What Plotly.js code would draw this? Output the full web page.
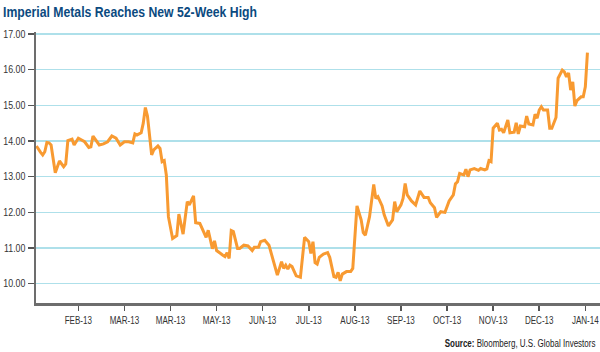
<!DOCTYPE html>
<html>
<head>
<meta charset="utf-8">
<script src="https://cdn.plot.ly/plotly-3.0.1.min.js"></script>
<style>html,body{margin:0;padding:0;background:#fff;}#chart{width:600px;height:352px;}</style>
</head>
<body>
<div id="chart"></div>
<script>
// trading-day index (Jan 2013 .. Jan 2014)
const dayIndex = [0,1,2,3,4,5,6,7,9,11,13,14,15,17,18,20,23,25,26,27,29,30,32,33,34,36,38,40,42,44,46,47,48,50,51,52,53,55,56,58,59,60,61,62,63,65,67,68,70,72,73,75,76,78,79,81,82,84,85,86,89,90,91,92,93,94,96,97,99,101,103,104,106,107,109,111,115,117,118,119,120,121,122,124,126,128,130,131,132,133,134,135,137,139,140,142,143,144,145,146,148,150,151,153,155,156,157,159,161,162,163,165,166,168,170,171,172,174,175,176,177,179,181,183,185,187,188,190,191,193,195,197,199,200,201,202,204,205,206,207,209,211,212,214,215,216,217,218,220,221,222,223,225,226,228,229,230,231,233,234,235,237,238,239,240,241,242,244,245,246,248,249,251,252,253,254,255,256,257,258,260,261,262,263];
// share price (CAD)
const price = [13.86,13.75,13.68,13.61,13.70,13.96,13.95,13.89,13.11,13.44,13.28,13.36,14.01,14.05,13.89,14.08,13.98,13.82,13.84,14.14,13.98,13.89,13.92,13.94,13.98,14.14,14.08,13.89,13.98,13.98,13.95,14.20,14.17,14.23,14.50,14.94,14.70,13.61,13.75,13.86,13.79,13.42,13.45,13.05,11.88,11.27,11.35,11.95,11.39,12.30,12.21,12.46,11.71,11.69,11.55,11.30,11.50,10.98,11.20,10.93,10.80,10.76,10.87,10.71,11.49,11.46,10.99,10.99,11.08,11.06,10.93,11.02,11.02,11.18,11.22,11.08,10.24,10.62,10.43,10.52,10.41,10.52,10.48,10.22,10.18,11.30,11.18,10.85,11.18,10.59,10.55,10.74,10.83,10.87,10.74,10.20,10.18,10.32,10.08,10.27,10.34,10.34,10.43,12.18,11.79,11.43,11.36,11.88,12.78,12.39,12.44,12.18,11.93,11.62,11.79,12.30,12.02,12.21,12.39,12.81,12.49,12.32,12.21,12.60,12.42,12.42,12.27,12.13,11.86,12.02,12.00,12.32,12.49,12.80,12.86,13.09,13.05,13.21,13.00,13.19,13.23,13.18,13.23,13.19,13.22,13.45,13.42,14.36,14.50,14.31,14.33,14.23,14.59,14.23,14.25,14.51,14.20,14.42,14.40,14.70,14.48,14.45,14.75,14.64,14.87,14.96,14.87,14.87,14.36,14.36,14.66,15.76,15.99,15.94,15.80,15.91,15.43,15.66,14.98,15.13,15.24,15.24,15.52,16.48];
const tickPositions = [20,42,64,86,108,130,152,174,196,218,240,262];
const tickLabels = ["FEB-13","MAR-13","MAR-13","MAY-13","JUN-13","JUL-13","AUG-13","SEP-13","OCT-13","NOV-13","DEC-13","JAN-14"];
const yTicks = [10,11,12,13,14,15,16,17];
const yTickLabels = ["10.00","11.00","12.00","13.00","14.00","15.00","16.00","17.00"];

const fam = '"Liberation Sans", Arial, sans-serif';

const trace = {
  x: dayIndex, y: price, type: 'scatter', mode: 'lines',
  line: {color: '#F89A31', width: 3, shape: 'linear'},
  hoverinfo: 'skip'
};

const layout = {
  width: 600, height: 352,
  margin: {l: 36, r: 0, t: 32, b: 49, pad: 0},
  paper_bgcolor: '#fff', plot_bgcolor: '#fff',
  showlegend: false,
  title: {
    text: 'Imperial Metals Reaches New 52-Week High',
    font: {family: fam, size: 14.5, color: '#0B4A80', weight: 'bold'},
    x: 0.005, xanchor: 'left', xref: 'container',
    y: 1 - 12/352, yanchor: 'middle', yref: 'container'
  },
  xaxis: {
    range: [-0.2, 269],
    tickmode: 'array', tickvals: tickPositions, ticktext: tickLabels,
    showgrid: false, zeroline: false,
    showline: true, linecolor: '#6d6d6d', linewidth: 2.5,
    ticks: 'outside', ticklen: 5, tickwidth: 1.5, tickcolor: '#555',
    tickfont: {family: fam, size: 11.5, color: '#333'},
    ticklabeloverflow: 'allow',
    fixedrange: true
  },
  yaxis: {
    range: [9.46, 17.056],
    tickmode: 'array', tickvals: yTicks, ticktext: yTickLabels,
    showgrid: true, gridcolor: '#AEE0EA', gridwidth: 1.2,
    zeroline: false,
    showline: true, linecolor: '#6d6d6d', linewidth: 2.5,
    ticks: 'outside', ticklen: 6, tickwidth: 1.5, tickcolor: '#555',
    tickfont: {family: fam, size: 10.5, color: '#333'},
    ticklabeloverflow: 'allow',
    fixedrange: true
  },
  annotations: [{
    text: '<b>Source:</b> Bloomberg, U.S. Global Investors',
    xref: 'paper', yref: 'paper', x: 1, y: -0.151,
    xanchor: 'right', yanchor: 'middle', xshift: -3,
    showarrow: false,
    font: {family: fam, size: 10, color: '#222'}
  }]
};

// Horizontally condense text (reference uses a narrow typeface)
function squeeze(selector, factor, targetWidth, keepRight) {
  document.querySelectorAll(selector).forEach(function (t) {
    const len = t.getComputedTextLength();
    if (!len) return;
    const w = targetWidth ? targetWidth : len * factor;
    t.setAttribute('textLength', w);
    t.setAttribute('lengthAdjust', 'spacingAndGlyphs');
    if (keepRight) {
      const x = parseFloat(t.getAttribute('x') || '0');
      t.setAttribute('x', x + (len - w) / 2);
    }
  });
}

Plotly.newPlot('chart', [trace], layout, {displayModeBar: false, staticPlot: true}).then(function () {
  squeeze('.xtick text', 0.70);
  squeeze('.ytick text', 0.84);
  squeeze('.gtitle', 0, 254);
  squeeze('.annotation-text', 0.80, 0, true);
});
</script>
</body>
</html>
